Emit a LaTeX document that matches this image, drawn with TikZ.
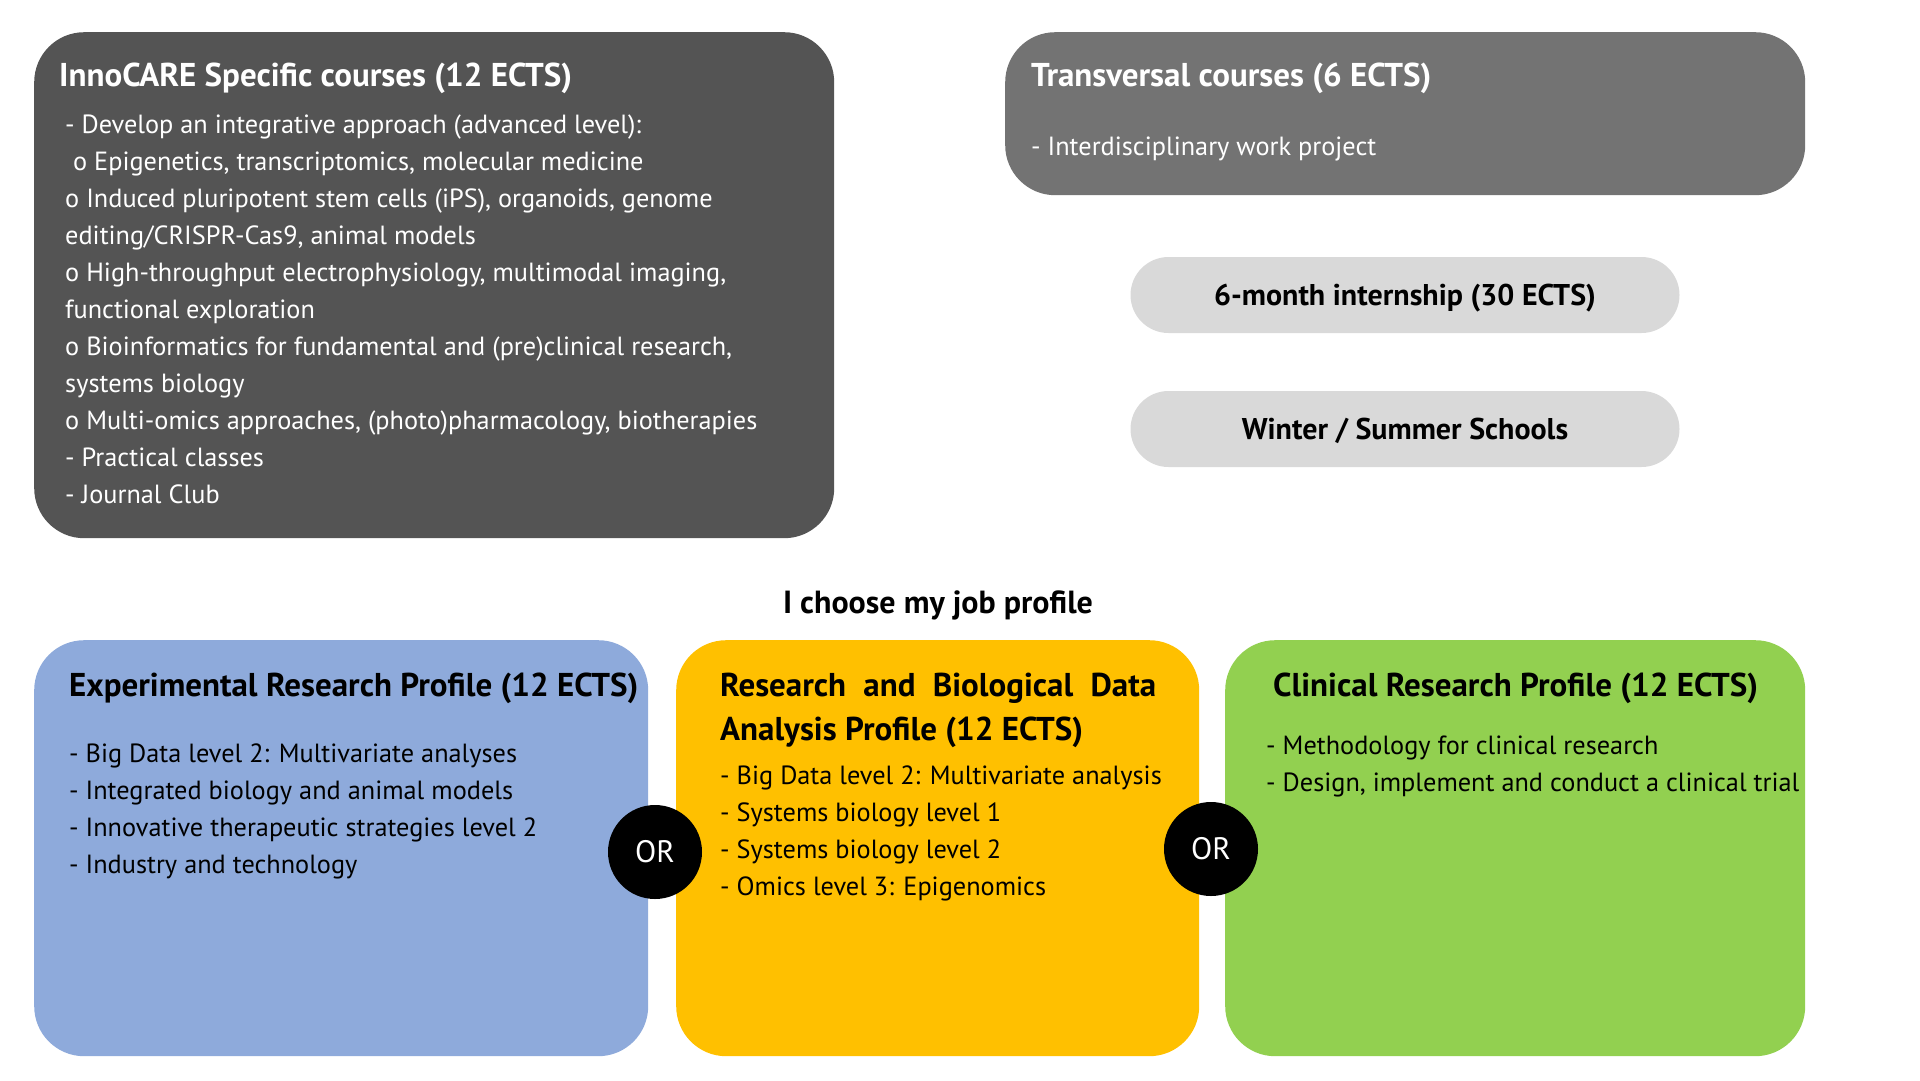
\documentclass[tikz,border=0pt]{standalone}
\usepackage{fontspec}
\setmainfont{PT Sans}
\usetikzlibrary{positioning}

\definecolor{specgrey}{HTML}{545454}
\definecolor{transgrey}{HTML}{737373}
\definecolor{pillgrey}{HTML}{D9D9D9}
\definecolor{expblue}{HTML}{8EAADB}
\definecolor{datayellow}{HTML}{FFC000}
\definecolor{clingreen}{HTML}{92D050}

\begin{document}
\begin{tikzpicture}[
    x=1pt,y=-1pt,
    panel/.style={rectangle,rounded corners=50pt,anchor=north west,inner sep=0pt},
    pill/.style={rectangle,rounded corners=38pt,fill=pillgrey,minimum width=549pt,minimum height=76pt,
      text depth=0pt,font=\fontsize{30}{36}\selectfont\bfseries},
    head/.style={anchor=base west,inner sep=0pt,align=left,font=\fontsize{33}{44}\selectfont\bfseries},
    items/.style={anchor=base west,inner sep=0pt,align=left,font=\fontsize{26.3}{37}\selectfont},
    orbubble/.style={circle,fill=black,text=white,minimum size=94pt,inner sep=0pt,
      font=\fontsize{31}{36}\selectfont}
    ]

    \useasboundingbox (0,0) rectangle (1920,1080);

    % top row (multi-line nodes sit on the baseline of their last line):
    \node[panel,fill=specgrey,minimum width=800pt,minimum height=506pt] (spec) at (34,32) {};
    \node[panel,fill=transgrey,minimum width=800pt,minimum height=163pt] (trans) at (1005,32) {};
    \node[pill] (intern) at (1405,295) {6-month internship (30 ECTS)};
    \node[pill] (schools) at (1405,429) {Winter / Summer Schools};

    \node[head,text=white] (spechead) at (59,86) {InnoCARE Specific courses (12 ECTS)};
    \node[items,text=white] (specitems) at (65,503) {- Develop an integrative approach (advanced level):\\
      \hspace{0.3em}o Epigenetics, transcriptomics, molecular medicine\\
      o Induced pluripotent stem cells (iPS), organoids, genome\\
      editing/CRISPR-Cas9, animal models\\
      o High-throughput electrophysiology, multimodal imaging,\\
      functional exploration\\
      o Bioinformatics for fundamental and (pre)clinical research,\\
      systems biology\\
      o Multi-omics approaches, (photo)pharmacology, biotherapies\\
      - Practical classes\\
      - Journal Club};

    \node[head,text=white] (transhead) at (1031,86) {Transversal courses (6 ECTS)};
    \node[items,text=white] (transitems) at (1031,155) {- Interdisciplinary work project};

    % profiles:
    \node[font=\fontsize{32}{36}\selectfont\bfseries] (choose) at (938,605) {I choose my job profile};

    \node[panel,fill=expblue,minimum width=614pt,minimum height=416pt] (exp) at (34,640) {};
    \node[panel,fill=datayellow,minimum width=523pt,minimum height=416pt] (data) at (676,640) {};
    \node[panel,fill=clingreen,minimum width=580pt,minimum height=416pt] (clin) at (1225,640) {};

    \node[head] (exphead) at (69,696) {Experimental Research Profile (12 ECTS)};
    \node[items] (expitems) at (69,873) {- Big Data level 2: Multivariate analyses\\
      - Integrated biology and animal models\\
      - Innovative therapeutic strategies level 2\\
      - Industry and technology};

    \node[head] (datahead) at (720,740) {\makebox[436pt][s]{Research and Biological Data}\\
      Analysis Profile (12 ECTS)};
    \node[items] (dataitems) at (720,895) {- Big Data level 2: Multivariate analysis\\
      - Systems biology level 1\\
      - Systems biology level 2\\
      - Omics level 3: Epigenomics};

    \node[head] (clinhead) at (1273,696) {Clinical Research Profile (12 ECTS)};
    \node[items] (clinitems) at (1266,791) {- Methodology for clinical research\\
      - Design, implement and conduct a clinical trial};

    \node[orbubble] (or1) at (655,852) {OR};
    \node[orbubble] (or2) at (1211,849) {OR};

  \end{tikzpicture}
\end{document}
